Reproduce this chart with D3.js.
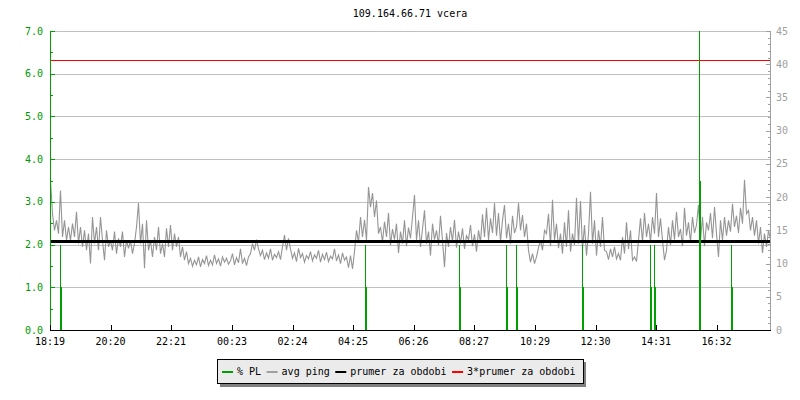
<!DOCTYPE html>
<html><head><meta charset="utf-8">
<script src="https://cdn.jsdelivr.net/npm/d3@7"></script>
<style>
body{margin:0;background:#fff;}
text{font-family:"DejaVu Sans Mono",monospace;font-size:10px;}
</style></head>
<body><svg id="c" width="800" height="400"></svg>
<script>
const title = "109.164.66.71 vcera";
const xTickMinutes = [0,121,242,364,485,606,727,848,970,1091,1212,1333];
const xTickLabels = ["18:19","20:20","22:21","00:23","02:24","04:25","06:26","08:27","10:29","12:30","14:31","16:32"];
const leftTicks = [0,1,2,3,4,5,6,7];
const rightTicks = [0,5,10,15,20,25,30,35,40,45];
const pingStepMin = 4;
// avg ping (ms, right axis)
const avgPing = [
22.6,17.5,15,16.5,14.5,21,14,16.5,13.5,15.5,
13.5,16,14,17.8,13,15.5,12.5,15,12,14.5,
10,17,13,15.5,12,17,13.5,10.5,15,12.5,
13.5,12,14.8,11.5,13.8,12.5,14.8,11,13.5,12.3,
13.5,11.5,13,15.5,19.1,13,16,9.3,16.5,12,
13.5,11,14,12,15.5,11.5,13,11,15.3,12.5,
15.8,12,14.5,12.5,14,11,12.5,10.5,11.8,10,
10.8,9.6,10.5,9.8,11,9.5,10.6,10,11.2,9.7,
10.5,9.8,11.3,10,10.7,9.6,11,10.2,10.8,9.9,
10.4,11.5,9.8,10.9,10.1,12.2,10,10.8,9.7,11,
11.5,13,12,13.6,12.2,11.2,12,10.6,11.6,10.8,
12.2,10.5,11.4,10.9,11.8,10.6,12.5,14.3,12,13.8,
12.2,10.8,11.6,10.3,12.3,10.9,11.5,10.2,11.2,10.7,
11.8,10.4,11.3,10.8,12,10.2,11.4,10.6,11.7,10.3,
11.1,10.7,12.2,10.4,11.3,10.0,11.6,10.5,11.0,9.4,
11.2,9.2,11.8,15,13.2,17,14,16.6,13.5,21.5,
18.5,20.6,17,19.5,14.5,15.5,13.2,16.3,14,17.6,
12.8,15.2,13.6,16.0,11.6,14.8,13,16.5,12.6,15.4,
13.8,17,20.3,13.5,16.5,12.5,15.2,18,13,14.8,
11.2,16,13.6,15,12.8,17.2,13.4,9.5,14.6,12.5,
15.5,13.3,16.6,12.4,14.8,13.0,15.3,12.2,14.2,13.6,
15.8,12.6,14.4,11.8,15,13.2,17.4,14,18.4,13.5,
16.8,14.6,19.1,14.2,17.6,13.3,16.5,18.8,13.8,16,
13,17.2,14.6,15.5,19.1,15,17.3,14,16,12,
10.2,11.5,10,11,12.4,13.5,12,15,14.5,17.5,
12.6,19.6,13.5,16,12.3,14.5,11.5,16.2,12.5,18,
11.8,14.5,12.8,19.9,13,19.4,12.2,15.8,11.2,14.5,
20.8,13,16.5,11.2,15,12.5,17,12,11.8,10.6,
12.2,11,12.5,10.7,11.5,10.5,14,11.5,16.2,12.2,
15,10.5,11,10.3,13.5,16.8,13.2,17.6,14,16,
13.3,17,14.5,20.6,14,16.8,13.5,10.5,12,15.5,
12.8,16.5,13.6,17.8,14,15.2,12.6,18.4,14.2,16.2,
13.2,17,14.6,15.8,18.8,13.5,17,12.6,16.2,15,
17.6,13.8,18.5,14.5,11,16.5,13.5,17,14.2,16.5,
14.8,19,15.5,17.2,14.6,18.4,16,22.6,17.5,18,
15,17,14.2,16.5,13,15.5,11.6,14.5,12.5,15,13.6
];
// packet loss events (minutes from start, % value, thin peak)
const plTimes  = [20,629,818,912,932,1063,1199,1208,1297,1361];
const plValues = [1,1,1,1,1,1,1,1,3.5,1];
const plPeaks  = [2,2,2,2,2,2,2,2,7.5,2];
const prumer = 13.4;       // ms
const prumer3 = 40.6;      // ms
const legendLabels = ["% PL","avg ping","prumer za obdobi","3*prumer za obdobi"];
const legendColors = ["#00a000","#a0a0a0","#000000","#ff0000"];

const svg = d3.select("#c");
const L=50,R=770,T=31,B=330;
const x = d3.scaleLinear().domain([0,1440]).range([L,R]);
const yL = d3.scaleLinear().domain([0,7]).range([B,T]);
const yR = d3.scaleLinear().domain([0,45]).range([B,T]);

svg.append("text").attr("x",410).attr("y",17).attr("text-anchor","middle").attr("fill","#000").text(title);

// grid
svg.append("g").attr("shape-rendering","crispEdges").selectAll("line").data(leftTicks.filter(d=>d>0)).join("line")
 .attr("x1",L).attr("x2",R).attr("y1",d=>Math.round(yL(d))+0.5).attr("y2",d=>Math.round(yL(d))+0.5)
 .attr("stroke","#c0c0c0").attr("stroke-width",1);

// avg ping line
svg.append("clipPath").attr("id","cp").append("rect").attr("x",L).attr("y",T).attr("width",R-L).attr("height",B-T);
svg.append("path").datum(avgPing)
 .attr("d", d3.line().x((d,i)=>x(i*pingStepMin)+0.5).y(d=>yR(d)))
 .attr("fill","none").attr("stroke","#959595").attr("stroke-width",1.1);

// mean lines
svg.append("line").attr("x1",L).attr("x2",R).attr("y1",Math.round(yR(prumer))).attr("y2",Math.round(yR(prumer)))
 .attr("stroke","#000").attr("stroke-width",3).attr("shape-rendering","crispEdges");
svg.append("line").attr("x1",L).attr("x2",R).attr("y1",Math.round(yR(prumer3))+0.5).attr("y2",Math.round(yR(prumer3))+0.5)
 .attr("stroke","#ff0000").attr("stroke-width",1).attr("shape-rendering","crispEdges");

// PL
const plData = plTimes.map((t,i)=>({t,v:plValues[i],p:plPeaks[i]}));
const gpl = svg.append("g").attr("clip-path","url(#cp)").attr("shape-rendering","crispEdges");
gpl.selectAll("line").data(plData).join("line")
 .attr("x1",d=>Math.round(x(d.t))+0.5).attr("x2",d=>Math.round(x(d.t))+0.5)
 .attr("y1",d=>yL(d.p)).attr("y2",B).attr("stroke","#00a000").attr("stroke-width",1);
gpl.selectAll("rect").data(plData).join("rect")
 .attr("x",d=>Math.round(x(d.t))).attr("width",2)
 .attr("y",d=>Math.round(yL(d.v))).attr("height",d=>B-Math.round(yL(d.v))).attr("fill","#00a000");

// left axis
const gl = svg.append("g").attr("shape-rendering","crispEdges");
gl.append("line").attr("x1",L+0.5).attr("x2",L+0.5).attr("y1",T).attr("y2",B).attr("stroke","#00a000").attr("stroke-width",1);
gl.selectAll("line.mj").data(leftTicks).join("line").attr("class","mj")
 .attr("x1",L).attr("x2",L+5).attr("y1",d=>Math.round(yL(d))+0.5).attr("y2",d=>Math.round(yL(d))+0.5).attr("stroke","#00a000");
gl.selectAll("line.mn").data(leftTicks.slice(0,-1)).join("line").attr("class","mn")
 .attr("x1",L).attr("x2",L+3).attr("y1",d=>Math.round(yL(d+0.5))+0.5).attr("y2",d=>Math.round(yL(d+0.5))+0.5).attr("stroke","#00a000");
gl.selectAll("text").data(leftTicks).join("text")
 .attr("x",43).attr("y",d=>yL(d)+3.5).attr("text-anchor","end").attr("fill","#009900").text(d=>d.toFixed(1));

// right axis
const gr = svg.append("g").attr("shape-rendering","crispEdges");
gr.append("line").attr("x1",R+0.5).attr("x2",R+0.5).attr("y1",T).attr("y2",B).attr("stroke","#a0a0a0");
gr.selectAll("line.mn").data(d3.range(0,46)).join("line").attr("class","mn")
 .attr("x1",d=>d%5===0?R-4:R-2).attr("x2",R).attr("y1",d=>Math.round(yR(d))+0.5).attr("y2",d=>Math.round(yR(d))+0.5).attr("stroke","#a0a0a0");
gr.selectAll("text").data(rightTicks).join("text")
 .attr("x",776).attr("y",d=>yR(d)+3.5).attr("fill","#a0a0a0").text(d=>d);

// x axis
const gx = svg.append("g").attr("shape-rendering","crispEdges");
gx.append("line").attr("x1",L).attr("x2",R+1).attr("y1",B+0.5).attr("y2",B+0.5).attr("stroke","#000");
gx.selectAll("line.t").data(xTickMinutes).join("line").attr("class","t")
 .attr("x1",d=>Math.round(x(d))+0.5).attr("x2",d=>Math.round(x(d))+0.5).attr("y1",B-5).attr("y2",B).attr("stroke","#000");
gx.selectAll("text").data(xTickMinutes).join("text")
 .attr("x",d=>x(d)).attr("y",345).attr("text-anchor","middle").attr("fill","#000").text((d,i)=>xTickLabels[i]);

// legend
const lg = svg.append("g");
const shadow = lg.append("rect").attr("fill","#808080").attr("shape-rendering","crispEdges");
const box = lg.append("rect").attr("fill","#ebebeb").attr("stroke","#000").attr("shape-rendering","crispEdges");
let cx = 222;
legendLabels.forEach((lab,i)=>{
  lg.append("line").attr("x1",cx).attr("x2",cx+11).attr("y1",372).attr("y2",372).attr("stroke",legendColors[i]).attr("stroke-width",2);
  const t = lg.append("text").attr("x",cx+15).attr("y",375).attr("fill","#000").text(lab);
  cx = cx + 15 + t.node().getComputedTextLength() + 5.5;
});
const bx=217.5, by=359.5, bw=(cx-5.5+8)-bx, bh=24;
box.attr("x",bx).attr("y",by).attr("width",bw).attr("height",bh);
shadow.attr("x",bx+2.5).attr("y",by+2.5).attr("width",bw+0.5).attr("height",bh+0.5);
</script></body></html>
